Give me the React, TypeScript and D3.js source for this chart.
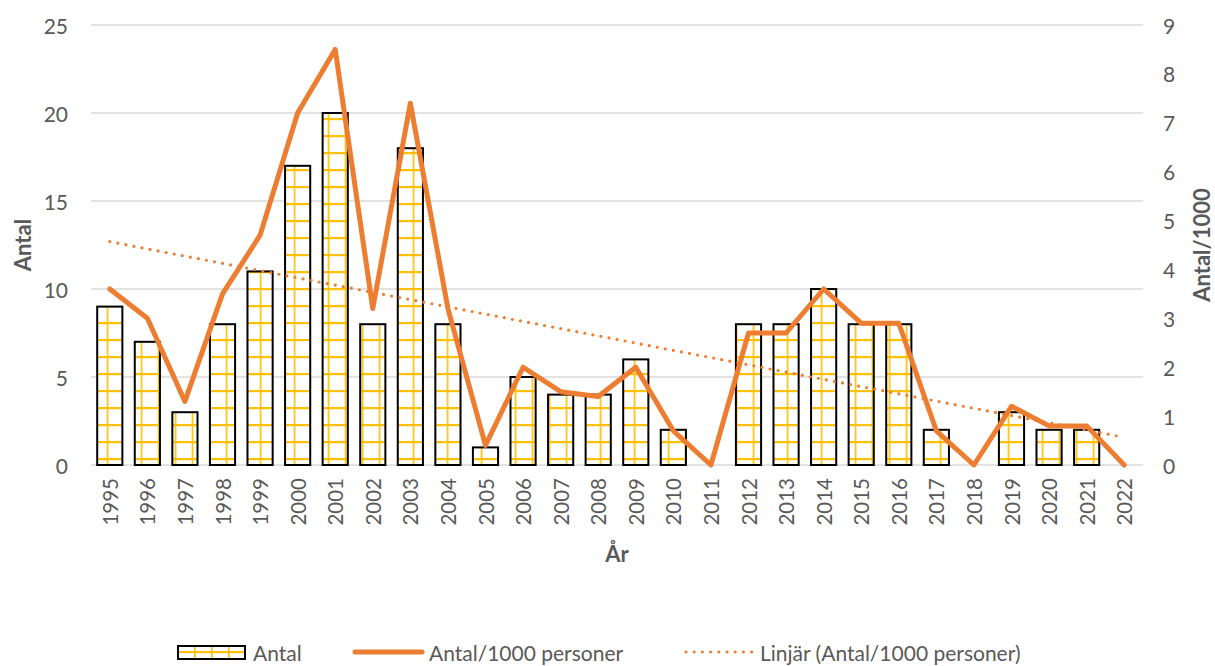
import React from "react";
import * as d3 from "d3";

const years = ["1995","1996","1997","1998","1999","2000","2001","2002","2003","2004","2005","2006","2007","2008","2009","2010","2011","2012","2013","2014","2015","2016","2017","2018","2019","2020","2021","2022"];
const antal = [9,7,3,8,11,17,20,8,18,8,1,5,4,4,6,2,0,8,8,10,8,8,2,0,3,2,2,0];
const per1000 = [3.6,3.0,1.3,3.5,4.7,7.2,8.5,3.2,7.4,3.2,0.4,2.0,1.5,1.4,2.0,0.7,0,2.7,2.7,3.6,2.9,2.9,0.7,0,1.2,0.8,0.8,0];
const leftTicks = [0,5,10,15,20,25];
const rightTicks = [0,1,2,3,4,5,6,7,8,9];
const legendLabels = ["Antal", "Antal/1000 personer", "Linjär (Antal/1000 personer)"];

const W = 1215, H = 666;
const FONT = "Lato, 'Open Sans', sans-serif";
const TXT = "#595959";
const ORANGE = "#ED7D31";
const YELLOW = "#FFC000";

export default function App() {
  const x = d3.scaleBand<string>().domain(years).range([91, 1143]).paddingInner(0.33).paddingOuter(0.165);
  const yL = d3.scaleLinear().domain([0, 25]).range([465, 25]);
  const yR = d3.scaleLinear().domain([0, 9]).range([465, 25]);
  const cx = (y: string) => (x(y) as number) + x.bandwidth() / 2;

  const line = d3.line<number>().x((_, i) => cx(years[i])).y(d => yR(d));

  // linear trend (least squares)
  const idx = per1000.map((_, i) => i + 1);
  const mx = d3.mean(idx) as number;
  const my = d3.mean(per1000) as number;
  const slope = d3.sum(idx.map((xi, i) => (xi - mx) * (per1000[i] - my))) / d3.sum(idx.map(xi => (xi - mx) ** 2));
  const icpt = my - slope * mx;
  const t0 = icpt + slope * 1;
  const t1 = icpt + slope * years.length;

  const legY = 652;

  return (
    <svg width={W} height={H} style={{ position: "absolute", left: 0, top: 0, background: "#fff" }} fontFamily={FONT}>
      <defs>
        <pattern id="grid" patternUnits="userSpaceOnUse" x={106.7} y={458} width={17} height={17}>
          <rect x={0} y={0} width={17} height={17} fill="#fff" />
          <rect x={0} y={0} width={1.6} height={17} fill={YELLOW} />
          <rect x={0} y={0} width={17} height={2.2} fill={YELLOW} />
        </pattern>
        <pattern id="gridLeg" patternUnits="userSpaceOnUse" x={194} y={651} width={17} height={17}>
          <rect x={0} y={0} width={17} height={17} fill="#fff" />
          <rect x={0} y={0} width={1.6} height={17} fill={YELLOW} />
          <rect x={0} y={0} width={17} height={2.2} fill={YELLOW} />
        </pattern>
      </defs>
      <rect width={W} height={H} fill="#fff" />

      {leftTicks.map(t => (
        <line key={t} x1={91} x2={1143} y1={yL(t)} y2={yL(t)} stroke="#d9d9d9" strokeWidth={1.5} />
      ))}

      {leftTicks.map(t => (
        <text key={t} x={68} y={yL(t)} textAnchor="end" dominantBaseline="central" fontSize={21} fill={TXT}>{t}</text>
      ))}
      {rightTicks.map(t => (
        <text key={t} x={1163} y={yR(t)} textAnchor="start" dominantBaseline="central" fontSize={21} fill={TXT}>{t}</text>
      ))}

      {years.map((y, i) => (
        <rect key={y} x={x(y)} y={yL(antal[i])} width={x.bandwidth()} height={yL(0) - yL(antal[i])}
          fill="url(#grid)" stroke="#000" strokeWidth={2} />
      ))}

      <path d={line(per1000) as string} fill="none" stroke={ORANGE} strokeWidth={5} strokeLinejoin="round" strokeLinecap="round" />

      <line x1={cx(years[0])} y1={yR(t0)} x2={cx(years[years.length - 1])} y2={yR(t1)}
        stroke={ORANGE} strokeWidth={3.2} strokeDasharray="0 8.2" strokeLinecap="round" />

      {years.map(y => (
        <text key={y} transform={`translate(${cx(y)},478) rotate(-90)`} textAnchor="end" dominantBaseline="central" fontSize={20.5} fill={TXT}>{y}</text>
      ))}

      <text transform="translate(22,245) rotate(-90)" textAnchor="middle" dominantBaseline="central" fontSize={22} fontWeight="bold" fill={TXT}>Antal</text>
      <text transform="translate(1201,245) rotate(-90)" textAnchor="middle" dominantBaseline="central" fontSize={22} fontWeight="bold" fill={TXT}>Antal/1000</text>
      <text x={617} y={553} textAnchor="middle" dominantBaseline="central" fontSize={22} fontWeight="bold" fill={TXT}>År</text>

      <rect x={178} y={646} width={67} height={13} fill="url(#gridLeg)" stroke="#000" strokeWidth={2} />
      <text x={253} y={legY} dominantBaseline="central" fontSize={21} fill={TXT}>{legendLabels[0]}</text>
      <line x1={355} x2={422} y1={legY} y2={legY} stroke={ORANGE} strokeWidth={5} strokeLinecap="round" />
      <text x={429} y={legY} dominantBaseline="central" fontSize={21} fill={TXT}>{legendLabels[1]}</text>
      <line x1={686} x2={752} y1={legY} y2={legY} stroke={ORANGE} strokeWidth={3.2} strokeDasharray="0 8.2" strokeLinecap="round" />
      <text x={760} y={legY} dominantBaseline="central" fontSize={21} fill={TXT}>{legendLabels[2]}</text>
    </svg>
  );
}
